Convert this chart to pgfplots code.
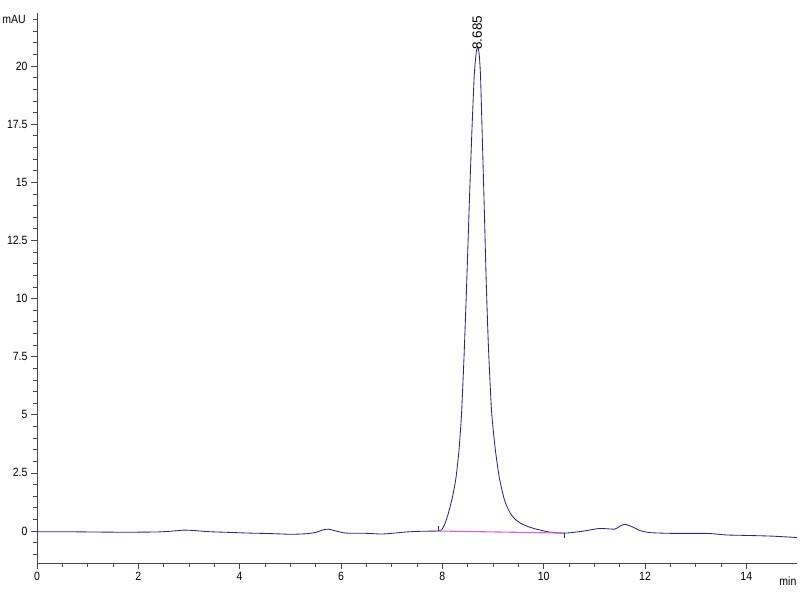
\documentclass[border=0pt]{standalone}
\usepackage{fontspec}
\setmainfont{Liberation Sans}[FakeStretch=0.88]
\newfontfamily\labelfont{Liberation Sans}
\usepackage{pgfplots}
\pgfplotsset{compat=1.18}
\definecolor{trace}{RGB}{40,40,130}
\definecolor{basel}{RGB}{225,90,215}
\definecolor{axisgray}{RGB}{70,70,70}
\begin{document}
\begin{tikzpicture}
\path[use as bounding box] (-37bp,-37bp) rectangle (763bp,563bp);
\begin{axis}[
  at={(0,0)}, anchor=south west,
  scale only axis,
  width=760bp, height=550bp,
  xmin=0, xmax=15,
  ymin=-1.376, ymax=22.28,
  axis x line=bottom, axis y line=left,
  axis line style={-, axisgray, line width=0.7pt},
  tick style={axisgray, line width=0.7pt},
  tick align=outside,
  major tick length=6bp,
  minor tick length=3.5bp,
  xtick={0,2,...,14},
  minor x tick num=3,
  ytick={0,2.5,...,20},
  minor ytick={-1,-0.5,...,22},
  /pgf/number format/assume math mode=true,
  tick label style={font=\fontsize{12}{13}\selectfont, black},
  clip=false,
]
\addplot[trace, line width=0.85pt, smooth, tension=0.35] coordinates {
(0,-0.03) (0.5,-0.03) (1.0,-0.04) (1.5,-0.05) (2.0,-0.05) (2.4,-0.04) (2.7,0.0) (2.9,0.04) (3.1,0.02) (3.4,-0.03) (3.8,-0.06) (4.2,-0.09) (4.6,-0.11) (5.0,-0.14) (5.3,-0.12) (5.5,-0.06) (5.65,0.05) (5.75,0.08) (5.9,0.0) (6.1,-0.09) (6.5,-0.1) (6.8,-0.13) (7.0,-0.1) (7.3,-0.04) (7.6,-0.01) (7.92,0.0)
(7.99,0.06) (8.055,0.34) (8.12,0.77) (8.20,1.46) (8.27,2.3) (8.33,3.5) (8.38,5.08) (8.43,7.6) (8.48,10.60) (8.53,13.94) (8.58,17.0) (8.63,19.60) (8.67,20.6) (8.70,20.82) (8.73,20.45) (8.755,19.50) (8.79,16.82) (8.83,13.70) (8.865,10.80) (8.91,7.91) (8.97,5.2) (9.04,3.61) (9.12,2.35) (9.21,1.46) (9.27,1.08) (9.34,0.77) (9.43,0.52) (9.54,0.34) (9.68,0.2) (9.82,0.1) (9.95,0.03) (10.1,-0.04) (10.33,-0.09)
(10.5,-0.08) (10.8,0.0) (11.1,0.11) (11.4,0.08) (11.5,0.2) (11.6,0.29) (11.75,0.18) (11.9,0.02) (12.1,-0.07) (12.5,-0.1) (13.0,-0.1) (13.3,-0.11) (13.6,-0.17) (14.0,-0.19) (14.5,-0.22) (15.0,-0.28)
};
\addplot[basel, line width=1.1pt] coordinates {(7.92,0.0) (10.40,-0.09)};
\addplot[trace, line width=0.6pt] coordinates {(7.92,0.0) (7.92,0.22)};
\addplot[trace, line width=0.6pt] coordinates {(10.40,-0.09) (10.40,-0.29)};
\node[rotate=90, anchor=west, inner sep=0pt, font=\labelfont\fontsize{13.5}{14}\selectfont] at (axis cs:8.69,20.7) {8.685};
\node[anchor=east, inner sep=0pt, font=\fontsize{12}{13}\selectfont] at ([xshift=-11bp]axis cs:0,22) {mAU};
\node[anchor=center, inner sep=0pt, font=\fontsize{12}{13}\selectfont] at ([yshift=-18bp]axis cs:14.82,-1.376) {min};
\end{axis}
\end{tikzpicture}
\end{document}
